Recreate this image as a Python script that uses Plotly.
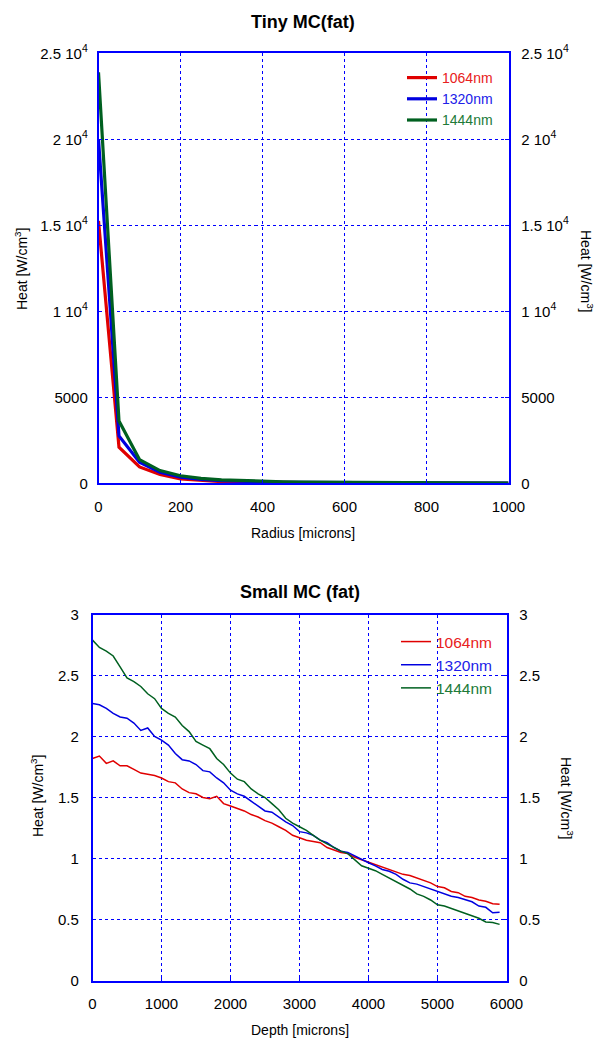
import plotly.graph_objects as go

# ---------------- data ----------------
radius = [0, 50, 100, 150, 200, 250, 300, 350, 400, 450, 500,
          550, 600, 650, 700, 750, 800, 850, 900, 950, 1000]
tiny_1064 = [15250, 2100, 950, 510, 260, 160, 100, 70, 50, 40, 30,
             25, 20, 18, 15, 12, 10, 8, 6, 5, 4]
tiny_1320 = [20000, 2750, 1220, 640, 350, 220, 150, 110, 80, 60, 50,
             40, 35, 30, 25, 20, 16, 13, 10, 8, 6]
tiny_1444 = [23900, 3620, 1380, 740, 440, 290, 200, 150, 110, 90, 70,
             60, 50, 45, 40, 35, 30, 25, 20, 15, 10]

depth = [0, 100, 200, 300, 400, 500, 600, 700, 800, 900,
         1000, 1100, 1200, 1300, 1400, 1500, 1600, 1700, 1800, 1900,
         2000, 2100, 2200, 2300, 2400, 2500, 2600, 2700, 2800, 2900,
         3000, 3100, 3200, 3300, 3400, 3500, 3600, 3700, 3800, 3900,
         4000, 4100, 4200, 4300, 4400, 4500, 4600, 4700, 4800, 4900,
         5000, 5100, 5200, 5300, 5400, 5500, 5600, 5700, 5800, 5900]
small_1064 = [1.82, 1.84, 1.78, 1.80, 1.76, 1.76, 1.73, 1.70, 1.69, 1.68,
              1.66, 1.63, 1.62, 1.57, 1.54, 1.53, 1.50, 1.49, 1.51, 1.45,
              1.43, 1.41, 1.39, 1.36, 1.34, 1.31, 1.29, 1.26, 1.23, 1.19,
              1.17, 1.15, 1.14, 1.13, 1.09, 1.07, 1.05, 1.04, 1.01, 0.99,
              0.97, 0.95, 0.93, 0.91, 0.89, 0.87, 0.86, 0.84, 0.82, 0.80,
              0.77, 0.76, 0.73, 0.72, 0.69, 0.68, 0.66, 0.65, 0.63, 0.625]
small_1320 = [2.27, 2.26, 2.23, 2.19, 2.16, 2.15, 2.11, 2.05, 2.07, 2.00,
              1.97, 1.93, 1.86, 1.81, 1.80, 1.77, 1.72, 1.71, 1.66, 1.62,
              1.56, 1.53, 1.51, 1.47, 1.43, 1.39, 1.38, 1.34, 1.30, 1.27,
              1.22, 1.21, 1.19, 1.15, 1.13, 1.09, 1.06, 1.05, 1.02, 0.99,
              0.965, 0.94, 0.91, 0.895, 0.87, 0.83, 0.80, 0.79, 0.77, 0.75,
              0.725, 0.71, 0.69, 0.68, 0.66, 0.645, 0.61, 0.60, 0.555, 0.56]
small_1444 = [2.79, 2.73, 2.70, 2.66, 2.57, 2.48, 2.45, 2.41, 2.35, 2.31,
              2.23, 2.19, 2.16, 2.09, 2.04, 1.96, 1.93, 1.90, 1.82, 1.77,
              1.70, 1.65, 1.63, 1.57, 1.53, 1.50, 1.45, 1.40, 1.33, 1.29,
              1.26, 1.23, 1.19, 1.15, 1.12, 1.09, 1.06, 1.04, 0.99, 0.94,
              0.92, 0.90, 0.87, 0.84, 0.81, 0.78, 0.75, 0.71, 0.69, 0.66,
              0.62, 0.61, 0.59, 0.57, 0.55, 0.53, 0.51, 0.48, 0.475, 0.46]

series_names = ["1064nm", "1320nm", "1444nm"]
line_colors = ["#e00000", "#0000e0", "#006020"]
text_colors = ["#e82020", "#2020e8", "#207a38"]

tiny_ticks = [0, 5000, 10000, 15000, 20000, 25000]
tiny_ticktext = ["0", "5000", "1 10<sup>4</sup>", "1.5 10<sup>4</sup>",
                 "2 10<sup>4</sup>", "2.5 10<sup>4</sup>"]
radius_ticks = [0, 200, 400, 600, 800, 1000]
small_ticks = [0, 0.5, 1, 1.5, 2, 2.5, 3]
small_ticktext = ["0", "0.5", "1", "1.5", "2", "2.5", "3"]
depth_ticks = [0, 1000, 2000, 3000, 4000, 5000, 6000]

# ---------------- figure ----------------
W, H = 599, 1039
FONT = "Liberation Sans, Arial, sans-serif"
BLUE = "#0000ff"
fig = go.Figure()

for name, ys, lc, tc in zip(series_names, [tiny_1064, tiny_1320, tiny_1444], line_colors, text_colors):
    fig.add_trace(go.Scatter(x=radius, y=ys, mode="lines", xaxis="x", yaxis="y",
                             line=dict(color=lc, width=3.2),
                             name=f'<span style="color:{tc}">{name}</span>',
                             legend="legend"))
for name, ys, lc, tc in zip(series_names, [small_1064, small_1320, small_1444], line_colors, text_colors):
    fig.add_trace(go.Scatter(x=depth, y=ys, mode="lines", xaxis="x2", yaxis="y2",
                             line=dict(color=lc, width=1.5),
                             name=f'<span style="color:{tc}">{name}</span>',
                             legend="legend2"))
# dummy traces so the right-hand axes are drawn
fig.add_trace(go.Scatter(x=[None], y=[None], xaxis="x", yaxis="y3", showlegend=False, hoverinfo="skip"))
fig.add_trace(go.Scatter(x=[None], y=[None], xaxis="x2", yaxis="y4", showlegend=False, hoverinfo="skip"))

TICKFONT = dict(family=FONT, size=15, color="black")
common_axis = dict(showgrid=True, griddash="dot", gridcolor=BLUE, gridwidth=1,
                   showline=True, linecolor=BLUE, linewidth=1.5, mirror=True,
                   ticks="inside", tickcolor=BLUE, ticklen=4, zeroline=False,
                   automargin=False, tickfont=TICKFONT)
right_axis = dict(showgrid=False, showline=True, linecolor=BLUE, linewidth=1.5,
                  ticks="inside", tickcolor=BLUE, ticklen=4, zeroline=False,
                  automargin=False, tickfont=TICKFONT, side="right",
                  ticklabelstandoff=8)


def xdom(l, r):
    return [l / W, r / W]


def ydom(top, bottom):
    return [(H - bottom) / H, (H - top) / H]


def ann(text, x, y, size, angle=0, bold=False):
    return dict(text=f"<b>{text}</b>" if bold else text, x=x / W, y=1 - y / H,
                xref="paper", yref="paper", xanchor="center", yanchor="middle",
                showarrow=False, textangle=angle, font=dict(family=FONT, size=size, color="black"))


fig.update_layout(
    width=W, height=H, autosize=False,
    margin=dict(l=0, r=0, t=0, b=0, pad=0),
    paper_bgcolor="white", plot_bgcolor="white",
    font=dict(family=FONT, color="black"),
    xaxis=dict(domain=xdom(98.5, 508.5), anchor="y", range=[0, 1000],
               tickvals=radius_ticks, ticklabelstandoff=9, **common_axis),
    yaxis=dict(domain=ydom(53.3, 483.3), anchor="x", range=[0, 25000],
               tickvals=tiny_ticks, ticktext=tiny_ticktext, ticklabelstandoff=6, **common_axis),
    yaxis3=dict(overlaying="y", anchor="x", range=[0, 25000],
                tickvals=tiny_ticks, ticktext=tiny_ticktext, **right_axis),
    xaxis2=dict(domain=xdom(92.5, 506.5), anchor="y2", range=[0, 6000],
                tickvals=depth_ticks, ticklabelstandoff=9, **common_axis),
    yaxis2=dict(domain=ydom(614.5, 980.5), anchor="x2", range=[0, 3],
                tickvals=small_ticks, ticktext=small_ticktext, ticklabelstandoff=9, **common_axis),
    yaxis4=dict(overlaying="y2", anchor="x2", range=[0, 3],
                tickvals=small_ticks, ticktext=small_ticktext, **right_axis),
    legend=dict(x=402 / W, y=1 - 62 / H, xanchor="left", yanchor="top",
                bgcolor="rgba(0,0,0,0)", font=dict(family=FONT, size=14),
                tracegroupgap=0, itemwidth=30),
    legend2=dict(x=396 / W, y=1 - 625 / H, xanchor="left", yanchor="top",
                 bgcolor="rgba(0,0,0,0)", font=dict(family=FONT, size=15.5),
                 tracegroupgap=0, itemwidth=30),
    showlegend=True,
    annotations=[
        ann("Tiny MC(fat)", 303, 22, 18, bold=True),
        ann("Small MC (fat)", 300, 592, 18, bold=True),
        ann("Radius [microns]", 303, 533, 14),
        ann("Depth [microns]", 300, 1030, 14),
        ann("Heat [W/cm<sup>3</sup>]", 21, 269, 14, angle=-90),
        ann("Heat [W/cm<sup>3</sup>]", 587, 271, 14, angle=90),
        ann("Heat [W/cm<sup>3</sup>]", 37, 796, 14, angle=-90),
        ann("Heat [W/cm<sup>3</sup>]", 567, 798, 14, angle=90),
    ],
)

fig.write_html("out.html", config={"displayModeBar": False},
               post_script="document.body.style.margin='0px';")
